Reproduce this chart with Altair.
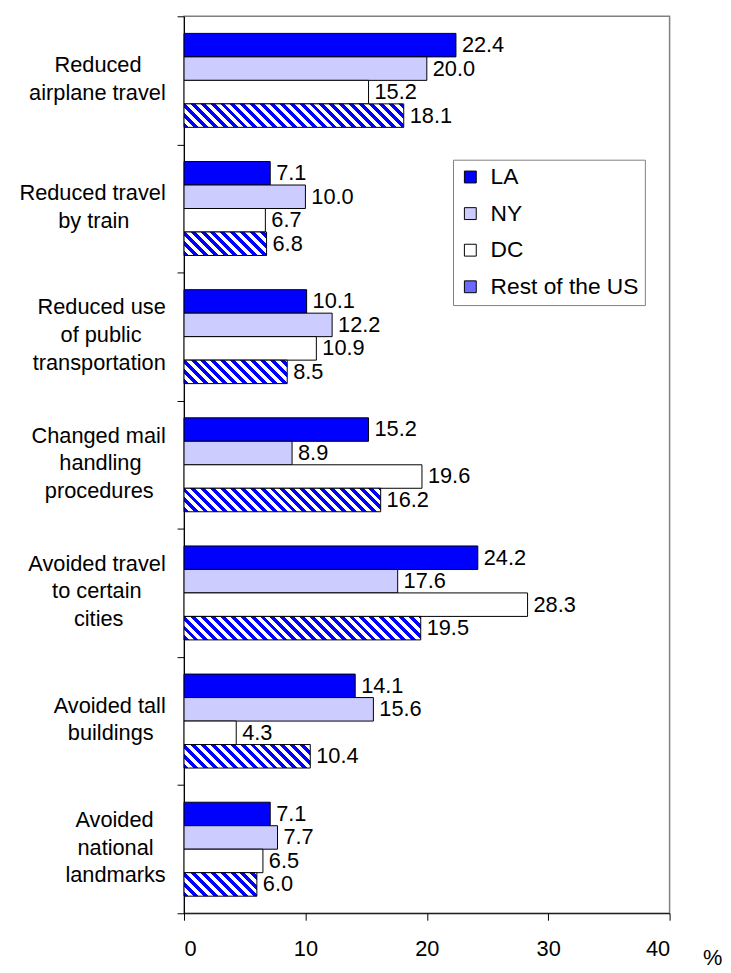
import altair as alt
import pandas as pd

# ---------------- data ----------------
categories = [
    "Reduced\nairplane travel",
    "Reduced travel\nby train",
    "Reduced use\nof public\ntransportation",
    "Changed mail\nhandling\nprocedures",
    "Avoided travel\nto certain\ncities",
    "Avoided tall\nbuildings",
    "Avoided\nnational\nlandmarks",
]
series = ["LA", "NY", "DC", "Rest of the US"]
la = [22.4, 7.1, 10.1, 15.2, 24.2, 14.1, 7.1]
ny = [20.0, 10.0, 12.2, 8.9, 17.6, 15.6, 7.7]
dc = [15.2, 6.7, 10.9, 19.6, 28.3, 4.3, 6.5]
rest = [18.1, 6.8, 8.5, 16.2, 19.5, 10.4, 6.0]
x_ticks = [0, 10, 20, 30, 40]

# ---------------- style / layout ----------------
FONT = "Liberation Sans, Arial, sans-serif"
FS = 22
W_PLOT = 491
H_PLOT = 907
X_MAX = 40
SUB_PAD = 0.728          # empty space above/below each group of 4 bars
LINE_H = 28
BLUE = "#0000FF"
colors = [BLUE, "#CCCCFF", "#FFFFFF", "#6A6AFF"]
NB = "\u00a0"
ZW = "\u200b"            # keeps padding from being trimmed

# Arial advance widths (1/1000 em) used to centre the lines of each label
AW = {" ": 278, NB: 278, "A": 667, "C": 722, "R": 722, "a": 556, "b": 556,
      "c": 500, "d": 556, "e": 556, "f": 278, "g": 556, "h": 556, "i": 222,
      "j": 222, "k": 500, "l": 222, "m": 833, "n": 556, "o": 556, "p": 556,
      "q": 556, "r": 333, "s": 500, "t": 278, "u": 556, "v": 500, "w": 722,
      "x": 500, "y": 500, "z": 500}


def text_w(s):
    return sum(AW.get(ch, 556) for ch in s) * FS / 1000.0


def display_label(label):
    """Centre lines against each other (right-aligned block) and add
    half-line spacers so every block is vertically centred the same way."""
    lines = label.split("\n")
    wmax = max(text_w(l) for l in lines)
    sp = AW[" "] * FS / 1000.0
    padded = []
    for l in lines:
        n = int(round((wmax - text_w(l)) / 2 / sp))
        padded.append(l + NB * n + ZW if n else l)
    spacer = ZW + NB + ZW
    sub = []
    for i, l in enumerate(padded):
        if i:
            sub.append(spacer)
        sub.append(l)
    sub = [spacer] * (3 - len(lines)) + sub
    return "\n".join(sub)


cat_disp = [display_label(c) for c in categories]

rows = []
for i, c in enumerate(cat_disp):
    for s, vals in zip(series, [la, ny, dc, rest]):
        rows.append({"cat": c, "idx": i, "series": s, "value": vals[i]})
df = pd.DataFrame(rows)

# hatch fill (diagonal stripes) built as a hard-stop linear gradient per bar
BAR_H = H_PLOT / len(categories) / (len(series) + 2 * SUB_PAD)
PERIOD = 10.0


def hatch(v):
    W = v / X_MAX * W_PLOT
    H = BAR_H
    r = H / W
    d = (1 + r) / (1 + r * r)
    L = W + H
    half = PERIOD / 2
    stops = []
    i = 0
    while i * half < L:
        a = min(i * half / L, 1.0)
        b = min((i + 1) * half / L, 1.0)
        col = BLUE if i % 2 == 0 else "#FFFFFF"
        stops.append({"offset": a, "color": col})
        stops.append({"offset": b, "color": col})
        i += 1
    return {"gradient": "linear", "x1": 0, "y1": 1, "x2": d, "y2": 1 - d * r,
            "stops": stops}


conditions = [
    {"test": f"datum.series === 'Rest of the US' && datum.idx === {i}",
     "value": hatch(v)}
    for i, v in enumerate(rest)
]

y_enc = alt.Y(
    "cat:N", sort=cat_disp,
    scale=alt.Scale(paddingInner=0, paddingOuter=0),
    axis=alt.Axis(
        title=None, labelExpr="split(datum.label, '\\n')",
        labelAlign="right", labelBaseline="middle", labelLineHeight=LINE_H / 2,
        labelOffset=-LINE_H - 2, labelFontSize=FS, labelPadding=12,
        labelLimit=400, labelOverlap=False,
        tickBand="extent", tickSize=7, tickColor="black", domainColor="black",
        labelColor="black", ticks=True,
    ),
)
yoff = alt.YOffset("series:N", sort=series,
                   scale=alt.Scale(paddingInner=0, paddingOuter=SUB_PAD))
x_enc = alt.X(
    "value:Q", scale=alt.Scale(domain=[0, X_MAX], nice=False),
    axis=alt.Axis(
        values=x_ticks, grid=False, tickSize=7, tickColor="black",
        domainColor="black", labelColor="black", labelFontSize=FS,
        labelPadding=19, title="%", titleFontSize=FS, titleFontWeight="normal",
        titleColor="black", titleX=534, titleY=45, titleAlign="center",
        titleBaseline="middle",
    ),
)

bars = alt.Chart(df).mark_bar(stroke="black", strokeWidth=1).encode(
    x=x_enc,
    y=y_enc,
    yOffset=yoff,
    fill=alt.Fill(
        "series:N",
        scale=alt.Scale(domain=series, range=colors),
        legend=alt.Legend(
            title=None, orient="none", legendX=272, legendY=145,
            symbolType="square", symbolSize=144, symbolStrokeColor="black",
            symbolStrokeWidth=1, labelFontSize=23, labelFont=FONT,
            labelColor="black", rowPadding=13, padding=6, labelOffset=9,
            strokeColor="#808080", fillColor="white",
        ),
        condition=conditions,
    ),
)

labels = alt.Chart(df).mark_text(
    align="left", baseline="middle", dx=6, fontSize=FS, font=FONT, color="black"
).encode(
    x=alt.X("value:Q"),
    y=alt.Y("cat:N", sort=cat_disp),
    yOffset=alt.YOffset("series:N", sort=series),
    text=alt.Text("value:Q", format=".1f"),
)

chart = (
    alt.layer(bars, labels)
    .properties(
        width=W_PLOT, height=H_PLOT,
        autosize=alt.AutoSizeParams(type="none"),
        padding={"left": 178, "top": 3, "right": 54, "bottom": 55},
    )
    .configure_view(stroke="#808080", strokeWidth=1.5)
    .configure_axis(labelFont=FONT, titleFont=FONT)
    .configure_legend(labelFont=FONT)
)

chart.save("out.html", embed_options={"renderer": "svg", "actions": False})
